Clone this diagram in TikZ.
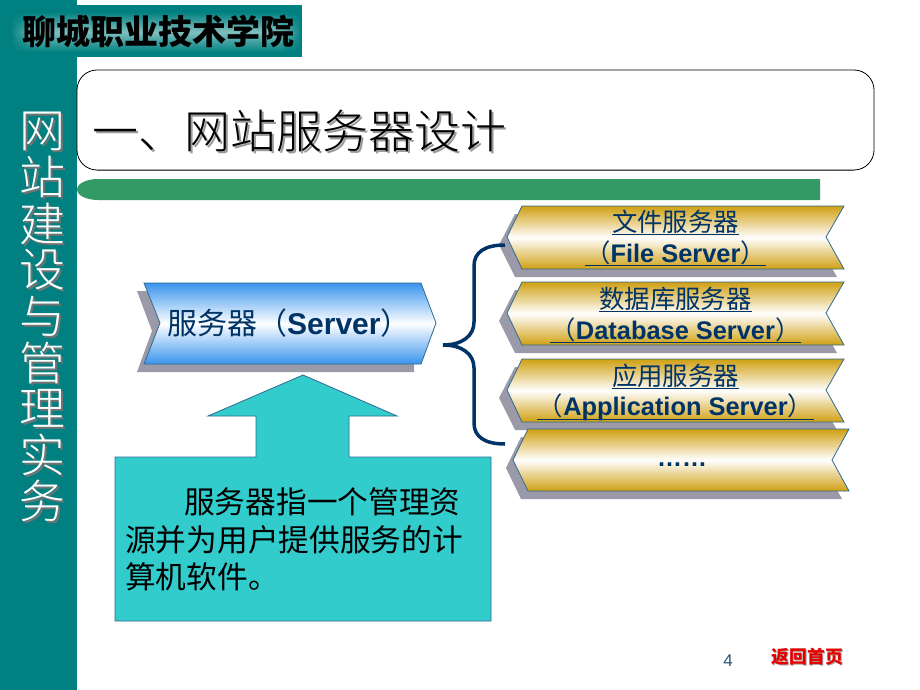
\documentclass[tikz,border=0pt]{standalone}
\usepackage{fontspec}
\usetikzlibrary{fadings}
\setmainfont{Noto Sans CJK SC}
\newfontfamily\thincjk{Noto Sans CJK SC Light}
\newfontfamily\latb{Liberation Sans}[BoldFont={Liberation Sans Bold}]
\newcommand{\fs}[1]{\fontsize{#1}{#1}\selectfont}
% text with a soft offset copy behind it, as one node
\newcommand{\shtext}[3]{\rlap{\hspace*{#1pt}\raisebox{-#1pt}{\textcolor{#2}{#3}}}#3}
\definecolor{band}{HTML}{008080}
\definecolor{navy}{HTML}{003366}
\definecolor{barg}{HTML}{339966}
\definecolor{aqua}{HTML}{33CCCC}
\definecolor{gold}{HTML}{D0A012}
\definecolor{sky}{HTML}{3A94EE}
\definecolor{shad}{HTML}{9A9AA8}
\definecolor{edgeb}{HTML}{2F6A90}
\tikzset{
  x=1pt,y=-1pt,
  shadowfill/.style={fill=shad,draw=none},
  ribbon/.style={draw=edgeb,line width=.8pt,top color=gold,bottom color=gold,middle color=white},
  skyribbon/.style={draw=edgeb,line width=.8pt,top color=sky,bottom color=sky,middle color=white},
  lbl/.style={inner sep=0pt,text=navy,anchor=center},
  uline/.style={draw=navy,line width=.9pt},
  bandchar/.style={inner sep=0pt,text=white,font=\thincjk\fs{46}},
  calloutfill/.style={fill=aqua,draw=edgeb,line width=.8pt,line join=miter},
  body/.style={inner sep=0pt,text=black,anchor=west,font=\fs{30.7}},
}
\begin{document}
\begin{tikzpicture}
\useasboundingbox (0,0) rectangle (920,690);
\fill[white] (0,0) rectangle (920,690);
% left band
\fill[band] (0,0) rectangle (77,690);
% logo
\fill[band] (0,5) rectangle (302,57);
\shade[top color=band,bottom color=band,middle color=band!50!white] (12,12) rectangle (300,52);
\fill[band,path fading=east] (10,10) rectangle (34,54);
\fill[band,path fading=west] (280,10) rectangle (302,54);
\node[inner sep=0pt,text=black,font=\fs{34}\bfseries] (logo) at (158,31) {聊城职业技术学院};
% vertical title
\foreach \c/\n [count=\i from 0] in {网/a,站/b,建/c,设/d,与/e,管/f,理/g,实/h,务/i}{
  \node[bandchar] (bc\n) at (42,{132+\i*46.3}) {\shtext{2}{black!55}{\c}};
}
% title frame
\draw[black!50,line width=1pt] (97,170.5) -- (854,170.5);
\draw[black,line width=.8pt,rounded corners=20pt] (77,70) rectangle (874,170);
\node[inner sep=0pt,anchor=west,text=black,font=\thincjk\fs{46}] (title) at (92,132) {\shtext{2}{black!40}{一、网站服务器设计}};
% green bar
\fill[barg] (820,179) -- (98,179) arc[start angle=90,end angle=270,x radius=21,y radius=-10.5] -- (820,200) -- cycle;
% server ribbon
\fill[shadowfill] (137,291) -- (414,291) -- (414,372) -- (137,372) -- (152,331) -- cycle;
\path[skyribbon] (144,283) -- (421,283) -- (436,323) -- (421,364) -- (144,364) -- (160,323) -- cycle;
\node[lbl,anchor=west,font=\fs{30}] (srv) at (167,323) {服务器（{\latb\bfseries Server}）};
% right ribbons
\foreach \t/\b/\m in {206/269/237,282/345/313,359/422/390}{
  \fill[shadowfill] (499,\m+8) -- (515,\t+8) -- (837,\t+8) -- (819,\m+8) -- (837,\b+8) -- (515,\b+8) -- cycle;
  \path[ribbon] (507,\m) -- (522,\t) -- (844,\t) -- (826,\m) -- (844,\b) -- (522,\b) -- cycle;
}
\fill[shadowfill] (506,468) -- (521,437) -- (842,437) -- (825,468) -- (842,499) -- (521,499) -- cycle;
\path[ribbon] (513,460) -- (528,429) -- (849,429) -- (832,460) -- (849,491) -- (528,491) -- cycle;
% ribbon text
\node[lbl,font=\fs{25.4}] (f1) at (675.5,222) {文件服务器};
\node[lbl,font=\fs{25.4}] (f2) at (675.5,253) {（{\latb\bfseries File Server}）};
\node[lbl,font=\fs{25.4}] (d1) at (675.5,299) {数据库服务器};
\node[lbl,font=\fs{25.4}] (d2) at (675.5,330) {（{\latb\bfseries Database Server}）};
\node[lbl,font=\fs{25.4}] (a1) at (675.5,376) {应用服务器};
\node[lbl,font=\fs{25.4}] (a2) at (675.5,407) {（{\latb\bfseries Application Server}）};
\node[lbl,font=\latb\fs{25}\bfseries] (dots) at (682,465) {……};
% underlines
\draw[uline] (612,234.5) -- (739,234.5);
\draw[uline] (585,265.5) -- (766,265.5);
\draw[uline] (599,311.5) -- (752,311.5);
\draw[uline] (550,342.5) -- (801,342.5);
\draw[uline] (612,388) -- (739,388);
\draw[uline] (537,419) -- (814,419);
% brace
\coordinate (bt) at (505,245);
\coordinate (bm) at (443,345);
\coordinate (bb) at (505,444);
\draw[navy,line width=3.5pt,line cap=butt]
  (bt) .. controls (485,245) and (474,252) .. (474,266)
  -- (474,322) .. controls (474,336) and (462,345) .. (bm)
  .. controls (462,345) and (474,354) .. (474,368)
  -- (474,423) .. controls (474,437) and (485,444) .. (bb);
% callout
\path[calloutfill] (115,457) -- (256,457) -- (256,416) -- (208,416) -- (303,375) -- (397,416) -- (349,416) -- (349,457) -- (491,457) -- (491,621) -- (115,621) -- cycle;
\node[body] (t1) at (184,502) {服务器指一个管理资};
\node[body] (t2) at (125,539.5) {源并为用户提供服务的计};
\node[body] (t3) at (125,577) {算机软件。};
% footer
\node[inner sep=0pt,text=navy!85!white,font=\latb\fs{17}] (pg) at (728,660.5) {4};
\node[inner sep=0pt,text=red!90!black,font=\fs{17.8}\bfseries] (back) at (807.5,657) {\shtext{1}{black!35}{返回首页}};
\end{tikzpicture}
\end{document}
